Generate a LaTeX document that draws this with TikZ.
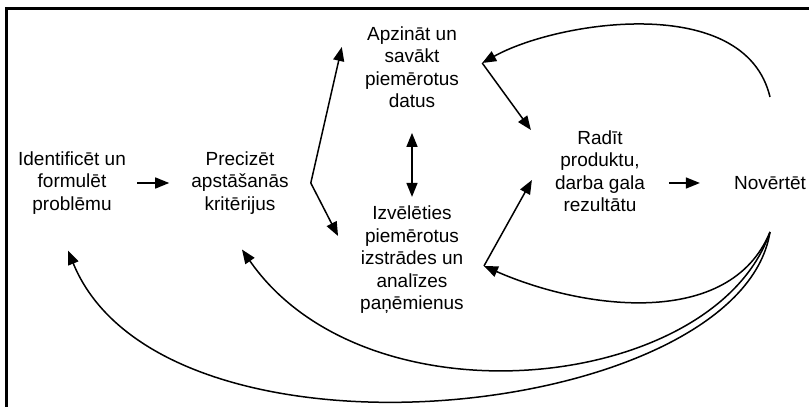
\documentclass[tikz,border=0pt]{standalone}
\usepackage{fontspec}
\setmainfont{Liberation Sans}
\usetikzlibrary{arrows.meta}

\begin{document}
\begin{tikzpicture}[x=1pt,y=1pt,
  txt/.style={align=center,inner sep=0pt,font=\fontsize{19}{22.5}\selectfont},
  arr/.style={line width=1.5pt,-{Triangle[length=14pt,width=11pt]}},
  darr/.style={line width=1.5pt,{Triangle[length=14pt,width=11pt]}-{Triangle[length=14pt,width=11pt]}}]
\useasboundingbox (0,0) rectangle (809,407);
% frame
\draw[line width=3pt] (6,0) -- (6,398.5) -- (809,398.5);

% steps
\node[txt] (ident) at (72,224) {Identificēt un\\formulēt\\problēmu};
\node[txt] (prec) at (240,224) {Precizēt\\apstāšanās\\kritērijus};
\node[txt] (apz) at (412,340) {Apzināt un\\savākt\\piemērotus\\datus};
\node[txt] (izv) at (412,147) {Izvēlēties\\piemērotus\\izstrādes un\\analīzes\\paņēmienus};
\node[txt] (rad) at (600,236) {Radīt\\produktu,\\darba gala\\rezultātu};
\node[txt] (nov) at (770,224) {Novērtēt};

% corner points
\coordinate (vtx) at ([xshift=22pt]prec.east);
\coordinate (apzR) at ([xshift=23pt,yshift=4pt]apz.east);
\coordinate (izvR) at ([xshift=20pt,yshift=-6pt]izv.east);
\coordinate (ntop) at ([yshift=86pt]nov.center);
\coordinate (nbot) at ([yshift=-49pt]nov.center);

% forward arrows
\draw[arr] ([xshift=11pt]ident.east) -- ([xshift=-22pt]prec.west);
\draw[arr] (vtx) -- ([xshift=-23pt,yshift=20pt]apz.west);
\draw[arr] (vtx) -- ([xshift=-22pt,yshift=24pt]izv.west);
\draw[darr] ([yshift=-25pt]apz.south) -- ([yshift=9pt]izv.north);
\draw[arr] (apzR) -- ([xshift=-24pt,yshift=41pt]rad.west);
\draw[arr] (izvR) -- ([xshift=-23pt,yshift=-9pt]rad.west);
\draw[arr] ([xshift=-65pt]nov.west) -- ([xshift=-34pt]nov.west);

% feedback loops
\draw[arr] (ntop) .. controls +(-25,105) and +(75,42) .. (apzR);
\draw[arr] (nbot) .. controls +(-40,-97) and +(100,-44) .. (izvR);
\draw[arr] (nbot) .. controls +(-55,-160) and +(125,-180) .. ([xshift=2pt,yshift=-35pt]prec.south);
\draw[arr] (nbot) .. controls +(-30,-188) and +(95,-232) .. ([xshift=-4pt,yshift=-36pt]ident.south);
\end{tikzpicture}
\end{document}
